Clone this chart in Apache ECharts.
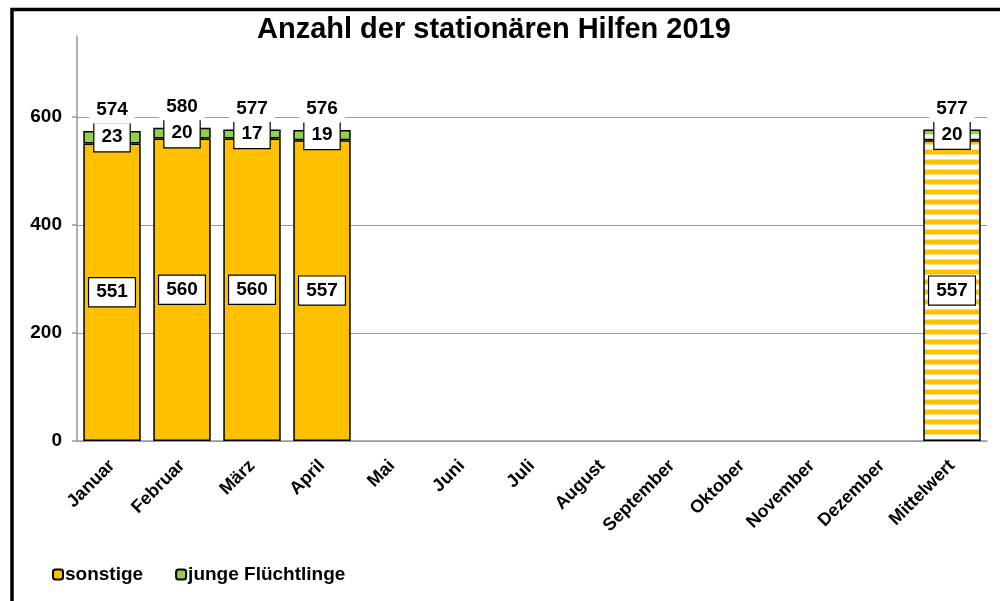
<!DOCTYPE html>
<html>
<head>
<meta charset="utf-8">
<script src="https://cdn.jsdelivr.net/npm/echarts@6/dist/echarts.min.js"></script>
<style>
  html, body { margin: 0; padding: 0; background: #fff; }
  #chart { width: 1000px; height: 601px; }
</style>
</head>
<body>
<div id="chart"></div>
<script>
const categories = ["Januar", "Februar", "März", "April", "Mai", "Juni", "Juli", "August",
  "September", "Oktober", "November", "Dezember", "Mittelwert"];
const sonstige = [551, 560, 560, 557, null, null, null, null, null, null, null, null, 557];
const jungeFluechtlinge = [23, 20, 17, 19, null, null, null, null, null, null, null, null, 20];
const gesamt = [574, 580, 577, 576, null, null, null, null, null, null, null, null, 577];
const yTicks = [0, 200, 400, 600];

const ORANGE = "#FFC000";
const GREEN = "#92D050";
const FONT = "Liberation Sans, Arial, sans-serif";

// striped fill like the Excel pattern on the average bar
function stripes(color, pale) {
  const c = document.createElement("canvas");
  c.width = 8;
  c.height = 10;
  const ctx = c.getContext("2d");
  ctx.fillStyle = "#fff";
  ctx.fillRect(0, 0, 8, 10);
  ctx.fillStyle = color;
  ctx.fillRect(0, 0, 8, 4);
  ctx.fillStyle = pale;
  ctx.fillRect(0, 4, 8, 1);
  ctx.fillRect(0, 9, 8, 1);
  return { image: c, repeat: "repeat" };
}

const last = categories.length - 1;
const toData = (arr, color, pale) => arr.map((v, i) =>
  i === last ? { value: v, itemStyle: { color: stripes(color, pale) } } : v);

const boxLabel = {
  show: true,
  position: "inside",
  color: "#000",
  fontFamily: FONT,
  fontWeight: "bold",
  fontSize: 19,
  backgroundColor: "#fff",
  borderColor: "#000",
  borderWidth: 1.2,
  padding: [5, 7, 4, 7]
};

const chart = echarts.init(document.getElementById("chart"));
chart.setOption({
  animation: false,
  title: {
    text: "Anzahl der stationären Hilfen 2019",
    left: 252,
    top: 10,
    textStyle: { fontFamily: FONT, fontWeight: "bold", fontSize: 29, color: "#000" }
  },
  legend: {
    left: 47,
    top: 560,
    itemWidth: 10,
    itemHeight: 10,
    itemGap: 32,
    data: ["sonstige", "junge Flüchtlinge"],
    textStyle: { fontFamily: FONT, fontWeight: "bold", fontSize: 19, color: "#000", padding: [0, 0, 0, -3] }
  },
  grid: { left: 77, right: 13, top: 36, bottom: 160 },
  xAxis: {
    type: "category",
    data: categories,
    axisLine: { lineStyle: { color: "#999", width: 1.5 } },
    axisTick: { length: 5, lineStyle: { color: "#999", width: 1.5 } },
    axisLabel: {
      interval: 0,
      rotate: 45,
      margin: 22,
      color: "#000",
      fontFamily: FONT,
      fontWeight: "bold",
      fontSize: 18
    }
  },
  yAxis: {
    type: "value",
    min: 0,
    max: 750,
    interval: 200,
    axisLine: { show: true, lineStyle: { color: "#999", width: 1.5 } },
    axisTick: { show: true, length: 5, customValues: yTicks, lineStyle: { color: "#999", width: 1.5 } },
    axisLabel: {
      customValues: yTicks,
      margin: 15,
      color: "#000",
      fontFamily: FONT,
      fontWeight: "bold",
      fontSize: 19
    },
    splitLine: { lineStyle: { color: "#999", width: 1.2 } }
  },
  series: [
    {
      name: "sonstige",
      type: "bar",
      stack: "total",
      barCategoryGap: "18%",
      data: toData(sonstige, ORANGE, "#FFE08A"),
      itemStyle: { color: ORANGE, borderColor: "#000", borderWidth: 1.5 },
      label: boxLabel
    },
    {
      name: "junge Flüchtlinge",
      type: "bar",
      stack: "total",
      data: toData(jungeFluechtlinge, GREEN, "#D3EDBA"),
      itemStyle: { color: GREEN, borderColor: "#000", borderWidth: 1.5 },
      label: Object.assign({}, boxLabel, { padding: [6, 7, 3, 7] })
    },
    {
      name: "Summe",
      type: "line",
      data: gesamt,
      symbol: "circle",
      symbolSize: 1,
      showSymbol: true,
      itemStyle: { color: "rgba(0,0,0,0)" },
      lineStyle: { opacity: 0 },
      label: {
        show: true,
        position: "top",
        distance: 7,
        color: "#000",
        fontFamily: FONT,
        fontWeight: "bold",
        fontSize: 19,
        backgroundColor: "#fff",
        padding: [1, 7, 4, 7]
      },
      z: 5
    }
  ],
  graphic: [
    {
      type: "polyline",
      shape: { points: [[12, 605], [12, 9.5], [1005, 9.5]] },
      style: { stroke: "#000", lineWidth: 3.5, fill: null },
      silent: true
    }
  ]
});
</script>
</body>
</html>
